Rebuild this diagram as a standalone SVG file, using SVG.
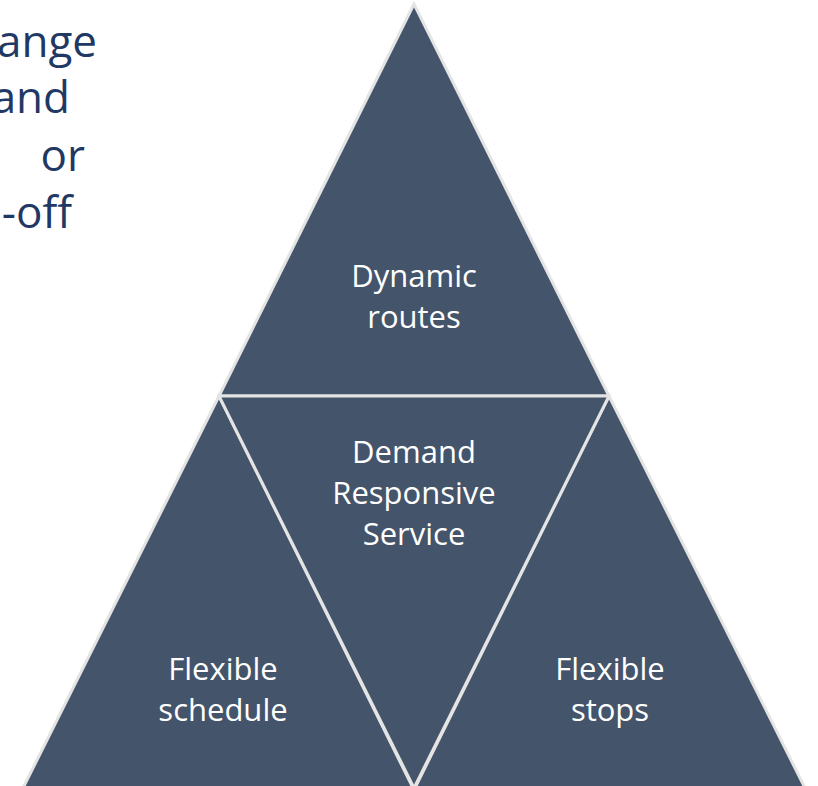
<svg xmlns="http://www.w3.org/2000/svg" width="818" height="786" viewBox="0 0 818 786">
  <style>
    .tri { fill: #44546A; stroke: #E4E4E4; stroke-width: 3; stroke-linejoin: miter; }
    .lbl { font-family: "Open Sans", "Liberation Sans", sans-serif; font-size: 31px; fill: #FFFFFF; text-anchor: middle; }
    .side { font-family: "Open Sans", "Liberation Sans", sans-serif; font-size: 44px; fill: #1F3864; text-anchor: end; }
  </style>
  <rect width="818" height="786" fill="#FFFFFF"/>

  <!-- side text, cut by the left edge -->
  <g id="side-text">
    <text class="side" x="97" y="57">ange</text>
    <text class="side" x="70" y="113">and</text>
    <text class="side" x="85" y="171">or</text>
    <text class="side" x="72" y="228">-off</text>
  </g>

  <!-- pyramid of four triangles -->
  <g id="dynamic-routes">
    <polygon class="tri" points="414,4 219,396 609,396"/>
    <text class="lbl" x="414" y="287">Dynamic</text>
    <text class="lbl" x="414" y="328">routes</text>
  </g>
  <g id="flexible-schedule">
    <polygon class="tri" points="219,396 22,790 414,790"/>
    <text class="lbl" x="223" y="680">Flexible</text>
    <text class="lbl" x="223" y="721">schedule</text>
  </g>
  <g id="flexible-stops">
    <polygon class="tri" points="609,396 414,790 806,790"/>
    <text class="lbl" x="610" y="680">Flexible</text>
    <text class="lbl" x="610" y="721">stops</text>
  </g>
  <g id="demand-responsive-service">
    <polygon class="tri" points="219,396 609,396 414,788"/>
    <text class="lbl" x="414" y="463">Demand</text>
    <text class="lbl" x="414" y="504">Responsive</text>
    <text class="lbl" x="414" y="545">Service</text>
  </g>
</svg>
